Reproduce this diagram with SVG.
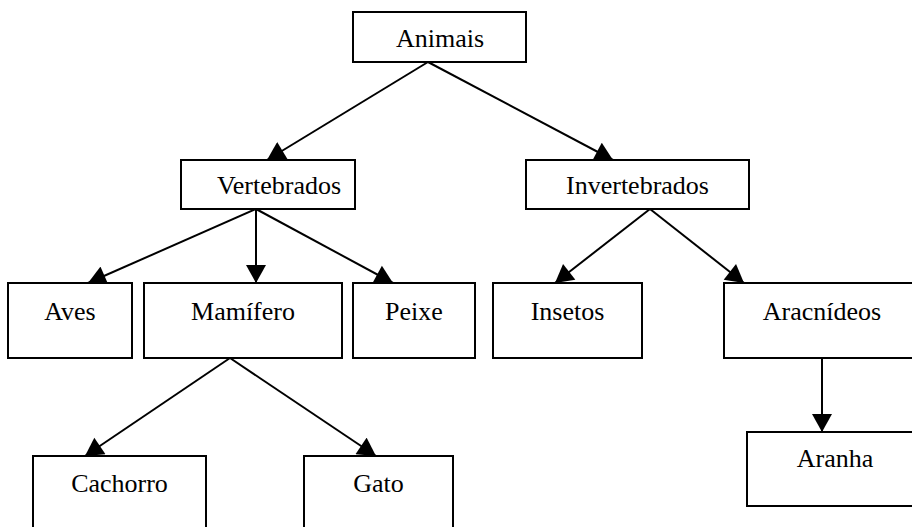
<svg xmlns="http://www.w3.org/2000/svg" width="912" height="527" viewBox="0 0 912 527">
<style>
rect{fill:#fff;stroke:#000;stroke-width:2}
text{font-family:"Liberation Serif","Times New Roman",serif;font-size:26px;fill:#000;text-anchor:middle}
.c line{stroke:#000;stroke-width:2;marker-end:url(#ah)}
</style>
<defs>
<marker id="ah" markerUnits="userSpaceOnUse" markerWidth="20" markerHeight="20" viewBox="0 0 18 20" refX="18" refY="10" orient="auto">
<path d="M0,0 L18,10 L0,20 z" fill="#000"/>
</marker>
</defs>
<g class="c" id="connectors">
<line x1="428" y1="62" x2="267" y2="160"/>
<line x1="428" y1="62" x2="613" y2="160"/>
<line x1="256" y1="209" x2="88" y2="283"/>
<line x1="256" y1="209" x2="256" y2="283"/>
<line x1="256" y1="209" x2="393" y2="283"/>
<line x1="650" y1="209" x2="555" y2="283"/>
<line x1="650" y1="209" x2="744" y2="283"/>
<line x1="822" y1="358" x2="822" y2="432"/>
<line x1="230" y1="358" x2="85" y2="456"/>
<line x1="230" y1="358" x2="376" y2="456"/>
</g>
<g id="animais"><rect x="353" y="12" width="173" height="50"/><text x="440" y="47">Animais</text></g>
<g id="vertebrados"><rect x="181" y="160" width="174" height="49"/><text x="279" y="194">Vertebrados</text></g>
<g id="invertebrados"><rect x="526" y="160" width="223" height="49"/><text x="637.5" y="194">Invertebrados</text></g>
<g id="aves"><rect x="8" y="283" width="124" height="75"/><text x="70" y="320">Aves</text></g>
<g id="mamifero"><rect x="144" y="283" width="198" height="75"/><text x="243" y="320">Mamífero</text></g>
<g id="peixe"><rect x="353" y="283" width="122" height="75"/><text x="414" y="320">Peixe</text></g>
<g id="insetos"><rect x="493" y="283" width="149" height="75"/><text x="567.5" y="320">Insetos</text></g>
<g id="aracnideos"><rect x="724" y="283" width="196" height="75"/><text x="822" y="320">Aracnídeos</text></g>
<g id="cachorro"><rect x="33" y="456" width="173" height="80"/><text x="119.5" y="492">Cachorro</text></g>
<g id="gato"><rect x="304" y="456" width="149" height="80"/><text x="378.5" y="492">Gato</text></g>
<g id="aranha"><rect x="747" y="432" width="176" height="74"/><text x="835" y="467">Aranha</text></g>
</svg>
